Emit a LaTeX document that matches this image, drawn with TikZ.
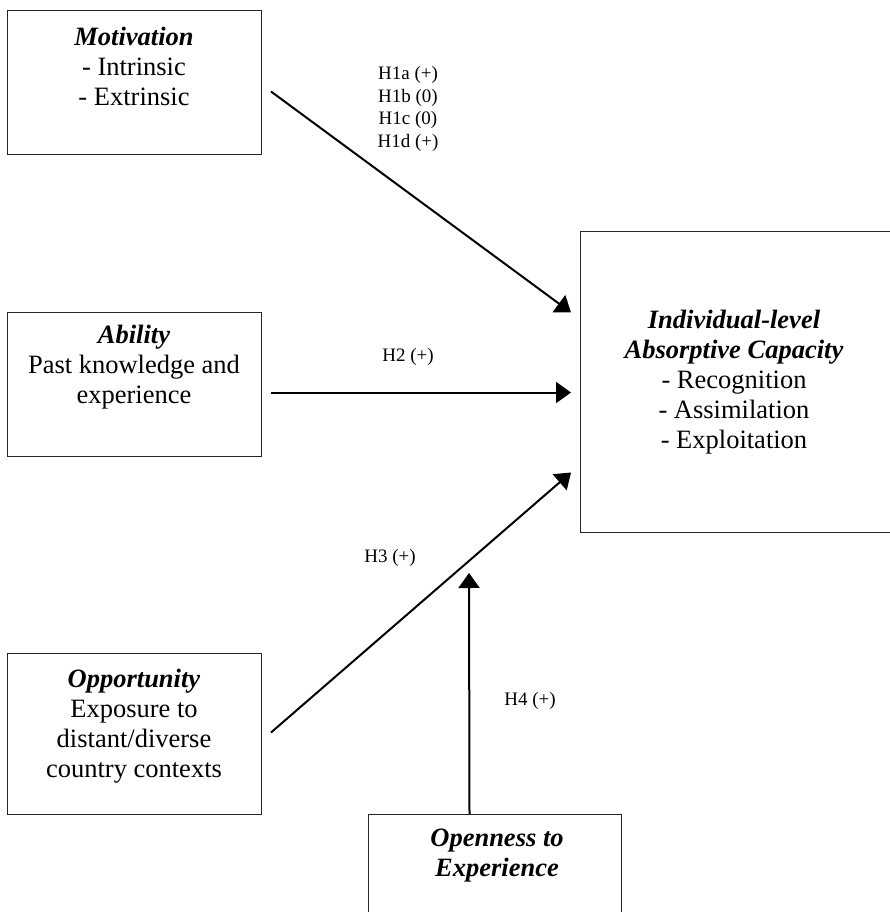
\documentclass[tikz,border=0pt]{standalone}
\usepackage{fontspec}
\setmainfont{Liberation Serif}
\usetikzlibrary{arrows.meta,calc}
\begin{document}
\begin{tikzpicture}[x=1pt,y=-1pt,
  box/.style={draw=black!85,line width=1pt,inner sep=0pt,anchor=north west},
  boxtext/.style={align=center,inner sep=0pt,font=\fontsize{26.5}{30}\selectfont},
  hlabel/.style={align=center,inner sep=0pt,font=\fontsize{19}{22.7}\selectfont},
  arr/.style={line width=2pt,-{Triangle[length=15pt,width=21pt]}}]
\useasboundingbox (0,0) rectangle (890,912);
\clip (0,0) rectangle (890,912);
% boxes
\node[box,minimum width=254pt,minimum height=144pt] (mot) at (7,10) {};
\node[box,minimum width=254pt,minimum height=144pt] (abi) at (7,312) {};
\node[box,minimum width=254pt,minimum height=161pt] (opp) at (7,653) {};
\node[box,minimum width=330pt,minimum height=301pt] (big) at (580,231) {};
\node[box,minimum width=253pt,minimum height=120pt] (ope) at (368,814) {};
% box texts
\node[boxtext] (motT) at (134,66) {\textbf{\textit{Motivation}}\\- Intrinsic\\- Extrinsic};
\node[boxtext] (abiT) at (134,367) {\textbf{\textit{Ability}}\\Past knowledge and\\experience};
\node[boxtext] (oppT) at (134,726) {\textbf{\textit{Opportunity}}\\Exposure to\\distant/diverse\\country contexts};
\node[boxtext] (bigT) at (734,382) {\textbf{\textit{Individual-level}}\\\textbf{\textit{Absorptive Capacity}}\\- Recognition\\- Assimilation\\- Exploitation};
\node[boxtext] (opeT) at (497,856) {\textbf{\textit{Openness to}}\\\textbf{\textit{Experience}}};
% connectors
\draw[arr] ($(mot.east)+(9,9)$) -- ($(big.west)+(-9,-69.5)$);
\draw[arr] ($(abi.east)+(9,8)$) -- ($(big.west)+(-9,10.5)$);
\draw[arr] ($(opp.east)+(9,-1.5)$) -- ($(big.west)+(-9,90.5)$);
\coordinate (modtip) at (469,573);
\draw[arr] ($(ope.north)+(-25.5,0)$) -- (modtip);
% labels
\node[hlabel] (h1) at (408,109) {H1a (+)\\H1b (0)\\H1c (0)\\H1d (+)};
\node[hlabel] (h2) at (408,357) {H2 (+)};
\node[hlabel] (h3) at (390,558) {H3 (+)};
\node[hlabel] (h4) at (530,701) {H4 (+)};
\end{tikzpicture}
\end{document}
